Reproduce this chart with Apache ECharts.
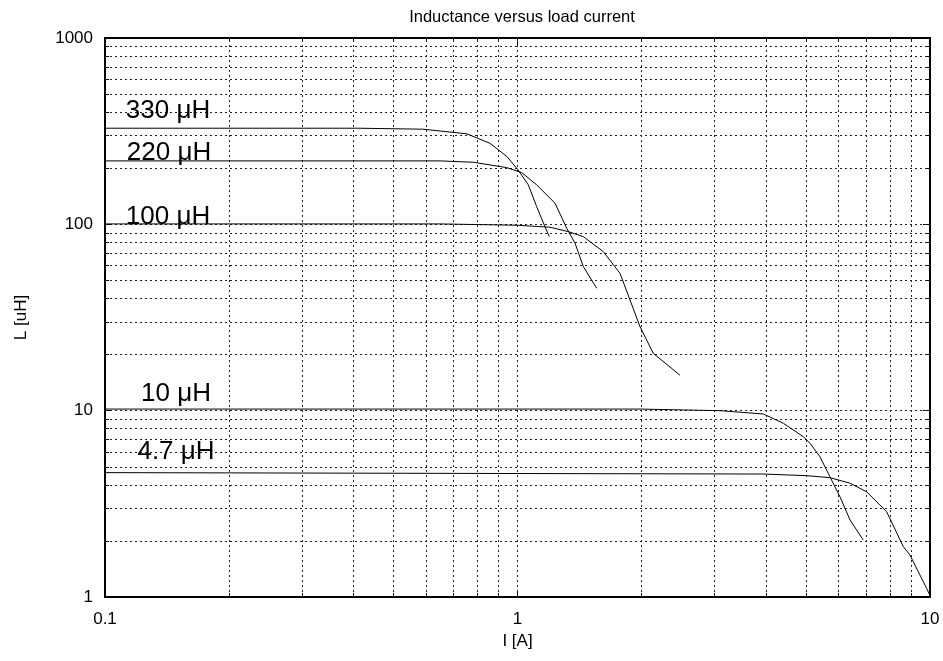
<!DOCTYPE html>
<html>
<head>
<meta charset="utf-8">
<script src="https://cdn.jsdelivr.net/npm/echarts@6/dist/echarts.min.js"></script>
<style>
  html, body { margin: 0; padding: 0; background: #fff; }
</style>
</head>
<body>
<div id="main" style="width: 943px;height:661px;"></div>
<script type="text/javascript">
// curve data: current [A] and inductance [uH]
var i330 = [0.1, 0.41, 0.59, 0.754, 0.858, 0.943, 1.003, 1.062, 1.113, 1.166, 1.194];
var l330 = [328, 328, 324, 306, 272, 231, 196, 163, 124.5, 97, 86];

var i220 = [0.1, 0.649, 0.781, 0.942, 1.024, 1.113, 1.233, 1.316, 1.379, 1.444, 1.556];
var l220 = [219, 219, 215.4, 201.5, 189.5, 162.8, 129.8, 95.3, 79.2, 59.3, 45.4];

var i100 = [0.1, 0.649, 0.996, 1.199, 1.328, 1.444, 1.614, 1.772, 1.982, 2.134, 2.477];
var l100 = [100.5, 100.5, 98.9, 96.5, 91.4, 85.9, 71.4, 54.6, 28.2, 20.3, 15.5];

var i10 = [0.1, 1.982, 3.097, 3.945, 4.41, 4.93, 5.12, 5.41, 5.72, 6.05, 6.4, 6.89];
var l10 = [10.2, 10.2, 10.0, 9.6, 8.56, 7.25, 6.68, 5.66, 4.42, 3.45, 2.59, 2.02];

var i4p7 = [0.1, 3.945, 5.02, 5.72, 6.4, 7.02, 7.85, 8.62, 8.94, 9.82, 10];
var l4p7 = [4.65, 4.57, 4.48, 4.37, 4.08, 3.67, 2.87, 1.86, 1.68, 1.11, 1.02];

// grid positions (gnuplot style log grid)
var xGrid = [0.2, 0.3, 0.4, 0.5, 0.6, 0.7, 0.8, 0.9, 1, 2, 3, 4, 5, 6, 7, 8, 9];
var yGrid = [2, 3, 4, 5, 6, 7, 8, 9, 10, 20, 30, 40, 50, 60, 70, 80, 90, 100,
             200, 300, 400, 500, 600, 700, 800, 900];

var curveNames = ['330 μH', '220 μH', '100 μH', '10 μH', '4.7 μH'];

function pairs(xs, ys) {
    return xs.map(function (x, k) { return [x, ys[k]]; });
}

var myChart = echarts.init(document.getElementById('main'));

var gridLine = { color: '#222', width: 1, type: [2, 3] };
var fontFam = '"Liberation Sans", Arial, Helvetica, sans-serif';

var curves = [[i330, l330], [i220, l220], [i100, l100], [i10, l10], [i4p7, l4p7]];
// where each curve label sits (layout only)
var labelPos = [[168, 111], [169, 153], [168, 217], [176, 394], [176, 452]];

var series = curves.map(function (c, k) {
    return {
        name: curveNames[k],
        type: 'line',
        showSymbol: false,
        silent: true,
        z: 5,
        lineStyle: { color: '#000', width: 1 },
        data: pairs(c[0], c[1])
    };
});

// dotted grid via markLine on a helper series
series.push({
    type: 'line',
    data: [],
    silent: true,
    z: 1,
    markLine: {
        symbol: ['none', 'none'],
        silent: true,
        animation: false,
        label: { show: false },
        lineStyle: gridLine,
        data: xGrid.map(function (v) { return { xAxis: v }; })
            .concat(yGrid.map(function (v) { return { yAxis: v }; }))
    }
});

function num(v) { return String(+(+v).toPrecision(3)); }

var tick = { inside: true, length: 7, lineStyle: { color: '#000' } };
var minor = { show: true, splitNumber: 9, length: 4, lineStyle: { color: '#000' } };

option = {
    animation: false,
    backgroundColor: '#fff',
    title: {
        text: 'Inductance versus load current',
        left: 517,
        top: 4,
        textAlign: 'center',
        textStyle: { fontFamily: fontFam, fontSize: 16.5, fontWeight: 'normal', color: '#000' }
    },
    grid: {
        left: 105, right: 13, top: 38, bottom: 64,
        show: true,
        borderColor: '#000',
        borderWidth: 2
    },
    xAxis: [{
        type: 'log',
        logBase: 10,
        min: 0.1,
        max: 10,
        name: 'I [A]',
        nameLocation: 'middle',
        nameGap: 35,
        nameTextStyle: { fontFamily: fontFam, fontSize: 17, color: '#000' },
        axisLine: { lineStyle: { color: '#000', width: 2 } },
        axisTick: tick,
        minorTick: minor,
        axisLabel: { fontFamily: fontFam, fontSize: 17, color: '#000', margin: 14, formatter: num },
        splitLine: { show: false }
    }, {
        type: 'log',
        logBase: 10,
        min: 0.1,
        max: 10,
        position: 'top',
        axisLine: { lineStyle: { color: '#000', width: 2 } },
        axisTick: tick,
        minorTick: minor,
        axisLabel: { show: false },
        splitLine: { show: false }
    }],
    yAxis: [{
        type: 'log',
        logBase: 10,
        min: 1,
        max: 1000,
        name: 'L [uH]',
        nameLocation: 'middle',
        nameGap: 75,
        nameRotate: 90,
        nameTextStyle: { fontFamily: fontFam, fontSize: 17, color: '#000' },
        axisLine: { lineStyle: { color: '#000', width: 2 } },
        axisTick: tick,
        minorTick: minor,
        axisLabel: { fontFamily: fontFam, fontSize: 17, color: '#000', margin: 12, formatter: num },
        splitLine: { show: false }
    }, {
        type: 'log',
        logBase: 10,
        min: 1,
        max: 1000,
        position: 'right',
        axisLine: { lineStyle: { color: '#000', width: 2 } },
        axisTick: tick,
        minorTick: minor,
        axisLabel: { show: false },
        splitLine: { show: false }
    }],
    graphic: curveNames.map(function (t, k) {
        return {
            type: 'text',
            x: labelPos[k][0],
            y: labelPos[k][1],
            z: 10,
            style: {
                text: t,
                fontFamily: fontFam,
                fontSize: 26,
                fill: '#000',
                align: 'center',
                verticalAlign: 'middle'
            }
        };
    }),
    series: series
};
myChart.setOption(option);
</script>
</body>
</html>
